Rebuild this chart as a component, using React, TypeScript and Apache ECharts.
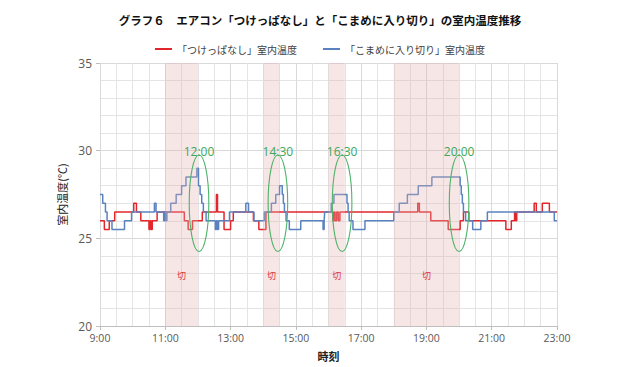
import React, { useEffect, useRef } from "react";
import * as echarts from "echarts";

const TITLE = "グラフ６　エアコン「つけっぱなし」と「こまめに入り切り」の室内温度推移";
const RED_NAME = "「つけっぱなし」室内温度";
const BLUE_NAME = "「こまめに入り切り」室内温度";
const Y_NAME = "室内温度(℃)";
const X_NAME = "時刻";

const RED_TIMES = ["9:00","9:08","9:17","9:27","10:02","10:07","10:15","10:30","10:32","10:34","10:36","10:45","11:35","11:42","11:50","12:08","12:34","12:36","12:48","13:00","13:05","13:42","13:52","14:05","16:08","16:10","16:12","16:15","16:18","16:21","18:44","18:47","19:08","19:40","20:02","20:08","20:18","21:26","21:36","21:42","21:44","21:46","22:18","22:22","22:33","22:46","23:00"];
const RED_VALUES = [26.0,25.5,26.0,26.5,27.0,26.5,26.0,25.5,26.0,25.5,26.0,26.5,26.0,25.5,26.0,26.5,27.5,26.5,25.5,26.0,26.5,26.0,25.5,26.5,26.0,26.5,26.0,26.5,26.0,26.5,27.0,26.5,26.0,25.5,26.0,26.5,26.0,25.5,26.0,26.5,26.0,26.5,27.0,26.5,27.0,26.5,26.5];

const BLUE_TIMES = ["9:00","9:05","9:10","9:13","9:22","9:45","9:58","10:40","10:43","10:57","10:59","11:01","11:03","11:10","11:20","11:30","11:38","11:58","12:01","12:04","12:07","12:10","12:15","12:32","12:34","12:36","12:38","12:58","13:28","13:33","13:43","14:02","14:15","14:23","14:30","14:35","14:37","14:39","14:42","14:48","15:09","15:50","15:52","15:53","16:05","16:10","16:34","16:36","16:38","16:45","17:07","18:00","18:10","18:25","18:45","19:10","20:02","20:04","20:06","20:08","20:12","20:25","20:40","20:52","22:55","23:00"];
const BLUE_VALUES = [27.5,27.0,26.5,26.0,25.5,26.0,26.5,27.0,26.5,26.0,26.5,26.0,26.5,27.0,27.5,28.0,28.5,29.0,28.0,27.5,27.0,26.5,26.0,25.5,26.0,25.5,26.0,26.5,27.0,26.5,26.0,26.5,27.0,27.5,28.0,27.5,27.0,26.5,26.0,25.5,26.0,25.5,26.0,26.5,27.0,27.5,27.0,26.5,26.0,25.5,26.0,26.5,27.0,27.5,28.0,28.5,28.0,27.5,27.0,26.5,26.0,25.5,26.0,26.5,26.0,26.0];

const OFF_START = ["11:00","14:00","16:00","18:00"];
const OFF_END = ["12:00","14:30","16:30","20:00"];
const OFF_LABEL = "切";

const ANN_LABELS = ["12:00","14:30","16:30","20:00"];
const ANN_CENTERS = ["12:02","14:27","16:25","20:00"];

const Y_MIN = 20;
const Y_MAX = 35;
const X_MIN = 9;
const X_MAX = 23;

const toH = (s: string) => {
  const [h, m] = s.split(":").map(Number);
  return h + m / 60;
};

const FONT = "'Noto Sans CJK JP', 'Noto Sans', sans-serif";
const NUM_FONT = "'Open Sans', 'Noto Sans', sans-serif";

export default function App() {
  const ref = useRef<HTMLDivElement>(null);
  useEffect(() => {
    document.body.style.margin = "0";
    if (!ref.current) return;
    const chart = echarts.init(ref.current, null, { renderer: "svg" });
    const RED = "#E3262B";
    const BLUE = "#5A82C0";
    chart.setOption({
      animation: false,
      backgroundColor: "#ffffff",
      title: {
        text: TITLE,
        left: "center",
        top: 9,
        textStyle: { fontFamily: FONT, fontSize: 11.5, fontWeight: "bold", color: "#111" },
      },
      legend: {
        data: [RED_NAME, BLUE_NAME],
        top: 39,
        left: "center",
        icon: "rect",
        itemWidth: 17,
        itemHeight: 2,
        itemGap: 26,
        textStyle: { fontFamily: FONT, fontSize: 10, color: "#404040" },
      },
      grid: { left: 100, right: 83, top: 63, bottom: 41, containLabel: false },
      xAxis: {
        type: "value",
        min: X_MIN,
        max: X_MAX,
        interval: 2,
        name: X_NAME,
        nameLocation: "middle",
        nameGap: 24,
        nameTextStyle: { fontFamily: FONT, fontSize: 11, fontWeight: "bold", color: "#222" },
        axisLine: { show: true, lineStyle: { color: "#bfbfbf" } },
        axisTick: { show: true, length: 4, lineStyle: { color: "#bfbfbf" } },
        axisLabel: {
          formatter: (v: number) => `${v}:00`,
          fontFamily: NUM_FONT,
          fontSize: 10.5,
          color: "#595959",
          margin: 6,
        },
        splitLine: { show: true, lineStyle: { color: "#d9d9d9", width: 1 } },
        minorTick: { show: false, splitNumber: 4 },
        minorSplitLine: { show: true, lineStyle: { color: "#e4e4e4", width: 1 } },
      },
      yAxis: {
        type: "value",
        min: Y_MIN,
        max: Y_MAX,
        interval: 5,
        name: Y_NAME,
        nameLocation: "middle",
        nameGap: 32,
        nameTextStyle: { fontFamily: FONT, fontSize: 11, color: "#222" },
        axisLine: { show: false },
        axisTick: { show: true, length: 4, lineStyle: { color: "#bfbfbf" } },
        axisLabel: { fontFamily: NUM_FONT, fontSize: 12, color: "#595959", margin: 8 },
        splitLine: { show: true, lineStyle: { color: "#d9d9d9", width: 1 } },
        minorTick: { show: false, splitNumber: 5 },
        minorSplitLine: { show: true, lineStyle: { color: "#e4e4e4", width: 1 } },
      },
      series: [
        {
          name: RED_NAME,
          type: "line",
          step: "end",
          z: 2,
          showSymbol: false,
          data: RED_TIMES.map((t, i) => [toH(t), RED_VALUES[i]]),
          lineStyle: { color: RED, width: 1.5 },
          itemStyle: { color: RED },
        },
        {
          name: BLUE_NAME,
          type: "line",
          step: "end",
          z: 2,
          showSymbol: false,
          data: BLUE_TIMES.map((t, i) => [toH(t), BLUE_VALUES[i]]),
          lineStyle: { color: BLUE, width: 1.5 },
          itemStyle: { color: BLUE },
        },
        {
          name: "off",
          type: "custom",
          z: 3,
          silent: true,
          data: OFF_START.map((s, i) => [toH(s), toH(OFF_END[i])]),
          encode: { x: [0, 1] },
          renderItem: (_p: any, api: any) => {
            const s = api.value(0);
            const e = api.value(1);
            const a = api.coord([s, Y_MAX]);
            const b = api.coord([e, Y_MIN]);
            const l = api.coord([(s + e) / 2, 22.9]);
            return {
              type: "group",
              children: [
                {
                  type: "rect",
                  shape: { x: a[0], y: a[1], width: b[0] - a[0], height: b[1] - a[1] },
                  style: { fill: "rgba(226,178,178,0.32)" },
                },
                {
                  type: "text",
                  x: l[0],
                  y: l[1],
                  style: {
                    text: OFF_LABEL,
                    fill: "#e0393c",
                    font: `9px ${FONT}`,
                    align: "center",
                    verticalAlign: "middle",
                  },
                },
              ],
            };
          },
        },
        {
          name: "ann",
          type: "custom",
          z: 4,
          silent: true,
          data: ANN_CENTERS.map((c, i) => [toH(c), i]),
          encode: { x: 0 },
          renderItem: (_p: any, api: any) => {
            const t = api.value(0);
            const idx = api.value(1);
            const c = api.coord([t, 27.0]);
            const top = api.coord([t, 29.75]);
            const lab = api.coord([t, 29.95]);
            const rx = api.size([0.3, 0])[0];
            return {
              type: "group",
              children: [
                {
                  type: "ellipse",
                  shape: { cx: c[0], cy: c[1], rx, ry: c[1] - top[1] },
                  style: { fill: "none", stroke: "#4DB36A", lineWidth: 1.1 },
                },
                {
                  type: "text",
                  x: lab[0],
                  y: lab[1],
                  style: {
                    text: ANN_LABELS[idx],
                    fill: "#3DA85A",
                    font: `12px ${NUM_FONT}`,
                    align: "center",
                    verticalAlign: "middle",
                  },
                },
              ],
            };
          },
        },
      ],
    });
    return () => chart.dispose();
  }, []);
  return <div ref={ref} style={{ width: 640, height: 367 }} />;
}
